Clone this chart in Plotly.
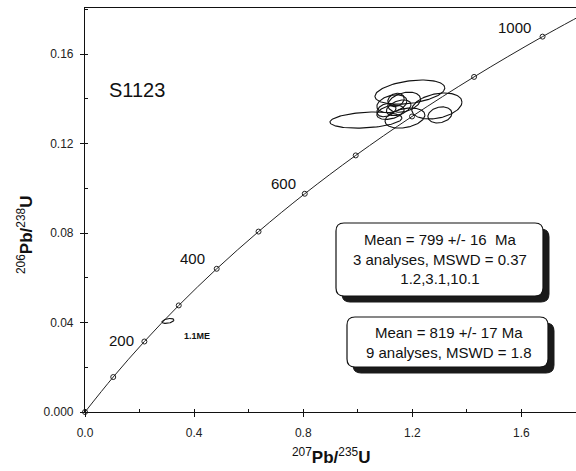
import numpy as np
import plotly.graph_objects as go

# ---- data ----
conc_ages = [0, 100, 200, 300, 400, 500, 600, 700, 800, 900, 1000, 1100]
conc_x = [0.0, 0.1035, 0.2177, 0.3437, 0.4828, 0.6362, 0.8056, 0.9925, 1.1988, 1.4264, 1.6774, 1.9546]
conc_y = [0.0, 0.01563, 0.03151, 0.04764, 0.06402, 0.08065, 0.09756, 0.1147, 0.1321, 0.1498, 0.1678, 0.1861]

age_label_text = ["200", "400", "600", "1000"]
age_label_x = [0.132, 0.395, 0.726, 1.576]
age_label_y = [0.0318, 0.0688, 0.1022, 0.1717]

# error ellipses: centre, 1-sigma-ish half widths, correlation
ell_cx = [1.030, 1.191, 1.290, 1.301, 1.173, 1.125, 1.150, 1.105, 1.170, 1.140, 1.120, 0.304]
ell_cy = [0.1305, 0.1430, 0.1368, 0.1328, 0.1314, 0.1378, 0.1360, 0.1350, 0.1385, 0.1395, 0.1340, 0.0407]
ell_sx = [0.132, 0.128, 0.092, 0.044, 0.073, 0.055, 0.045, 0.035, 0.060, 0.030, 0.050, 0.022]
ell_sy = [0.0036, 0.0054, 0.0058, 0.0036, 0.0045, 0.0040, 0.0035, 0.0030, 0.0045, 0.0030, 0.0032, 0.0011]
ell_rho = [0.25, 0.35, 0.30, 0.20, 0.30, 0.30, 0.40, 0.30, 0.30, 0.20, 0.35, 0.40]

sample_name = "S1123"
spot_label = "1.1ME"
box1_lines = ["Mean = 799 +/- 16  Ma", "3 analyses, MSWD = 0.37", "1.2,3.1,10.1"]
box2_lines = ["Mean = 819 +/- 17 Ma", "9 analyses, MSWD = 1.8"]

x_tickvals = [0.0, 0.4, 0.8, 1.2, 1.6]
x_ticktext = ["0.0", "0.4", "0.8", "1.2", "1.6"]
y_tickvals = [0.0, 0.04, 0.08, 0.12, 0.16]
y_ticktext = ["0.000", "0.04", "0.08", "0.12", "0.16"]

# ---- geometry helpers ----
W, H = 576, 471
L, R, T, B = 85, 0, 8, 59
XR = [0.0, 1.8]
YR = [0.0, 0.1806]
pw = W - L - R
ph = H - T - B


def px2x(px):
    return XR[0] + (px - L) / pw * (XR[1] - XR[0])


def py2y(py):
    return YR[0] + (T + ph - py) / ph * (YR[1] - YR[0])


def dx(n):
    return n / pw * (XR[1] - XR[0])


def dy(n):
    return n / ph * (YR[1] - YR[0])


def rounded_path(x0p, y0p, x1p, y1p, r=8):
    x0, x1 = px2x(x0p), px2x(x1p)
    yt, yb = py2y(y0p), py2y(y1p)
    rx, ry = dx(r), dy(r)
    return (f"M {x0+rx},{yt} L {x1-rx},{yt} Q {x1},{yt} {x1},{yt-ry} "
            f"L {x1},{yb+ry} Q {x1},{yb} {x1-rx},{yb} L {x0+rx},{yb} "
            f"Q {x0},{yb} {x0},{yb+ry} L {x0},{yt-ry} Q {x0},{yt} {x0+rx},{yt} Z")


fig = go.Figure()

# concordia curve
fig.add_trace(go.Scatter(
    x=conc_x, y=conc_y, mode="lines", line=dict(color="#222", width=1, shape="spline"),
    hoverinfo="skip", showlegend=False, cliponaxis=True))
fig.add_trace(go.Scatter(
    x=conc_x[:-1], y=conc_y[:-1], mode="markers",
    marker=dict(symbol="circle-open", size=5, color="#222", line=dict(width=1)),
    text=[str(a) for a in conc_ages[:-1]], hoverinfo="text", showlegend=False, cliponaxis=False))

# ellipses
t = np.linspace(0, 2 * np.pi, 120)
for cx, cy, sx, sy, rho in zip(ell_cx, ell_cy, ell_sx, ell_sy, ell_rho):
    ex = cx + sx * np.cos(t)
    ey = cy + sy * (rho * np.cos(t) + np.sqrt(1 - rho ** 2) * np.sin(t))
    fig.add_trace(go.Scatter(x=ex, y=ey, mode="lines", line=dict(color="#111", width=1.1),
                             hoverinfo="skip", showlegend=False))

# age labels
for txt, ax, ay in zip(age_label_text, age_label_x, age_label_y):
    fig.add_annotation(x=ax, y=ay, text=txt, showarrow=False,
                       font=dict(family="Liberation Sans, Arial", size=15, color="#111"))

fig.add_annotation(x=px2x(137), y=py2y(90), text=sample_name, showarrow=False,
                   font=dict(family="Liberation Sans, Arial", size=20, color="#111"))
fig.add_annotation(x=px2x(197), y=py2y(336), text=f"<b>{spot_label}</b>", showarrow=False,
                   font=dict(family="Liberation Sans, Arial", size=9, color="#111"))

# boxes with shadow
shapes = []
for (x0, y0, x1, y1) in [(336, 223, 543, 296), (347, 317, 548, 367)]:
    shapes.append(dict(type="path", path=rounded_path(x0 + 6, y0 + 6, x1 + 6, y1 + 6),
                       xref="x", yref="y", fillcolor="#1a1a1a", line=dict(color="#1a1a1a", width=1), layer="above"))
    shapes.append(dict(type="path", path=rounded_path(x0, y0, x1, y1),
                       xref="x", yref="y", fillcolor="white", line=dict(color="#111", width=1.2), layer="above"))
fig.update_layout(shapes=shapes)

fig.add_annotation(x=px2x(440), y=py2y(259), text="<br>".join(box1_lines), showarrow=False,
                   font=dict(family="Liberation Sans, Arial", size=15, color="#111"), align="center")
fig.add_annotation(x=px2x(448), y=py2y(342), text="<br>".join(box2_lines), showarrow=False,
                   font=dict(family="Liberation Sans, Arial", size=15, color="#111"), align="center")

# axis titles
fig.add_annotation(xref="paper", yref="paper", x=0.5, y=-(469 - (T + ph)) / ph, yanchor="bottom",
                   text="<sup>207</sup><b>Pb/</b><sup>235</sup><b>U</b>", showarrow=False,
                   font=dict(family="Liberation Sans, Arial", size=17, color="#111"))
fig.add_annotation(xref="paper", yref="paper", x=-(L - 12) / pw, xanchor="left", y=(T + ph - 235) / ph,
                   text="<sup>206</sup><b>Pb/</b><sup>238</sup><b>U</b>", showarrow=False, textangle=-90,
                   font=dict(family="Liberation Sans, Arial", size=17, color="#111"))

fig.update_xaxes(range=XR, tickvals=x_tickvals, ticktext=x_ticktext, showgrid=False, zeroline=False,
                 showline=True, linecolor="#111", linewidth=1.2, mirror=True,
                 ticks="outside", ticklen=4, tickcolor="#111", ticklabelstandoff=5,
                 minor=dict(dtick=0.2, ticks="inside", ticklen=3, tickcolor="#111"),
                 tickfont=dict(family="Liberation Sans, Arial", size=12, color="#222"))
fig.update_yaxes(range=YR, tickvals=y_tickvals, ticktext=y_ticktext, showgrid=False, zeroline=False,
                 showline=True, linecolor="#111", linewidth=1.2,
                 ticks="outside", ticklen=4, tickcolor="#111", ticklabelstandoff=4,
                 minor=dict(dtick=0.02, ticks="inside", ticklen=3, tickcolor="#111"),
                 tickfont=dict(family="Liberation Sans, Arial", size=12, color="#222"))

fig.update_layout(width=W, height=H, margin=dict(l=L, r=R, t=T, b=B),
                  plot_bgcolor="white", paper_bgcolor="white", showlegend=False)

fig.write_html("out.html", config={"displayModeBar": False},
               post_script="document.body.style.margin='0';")
